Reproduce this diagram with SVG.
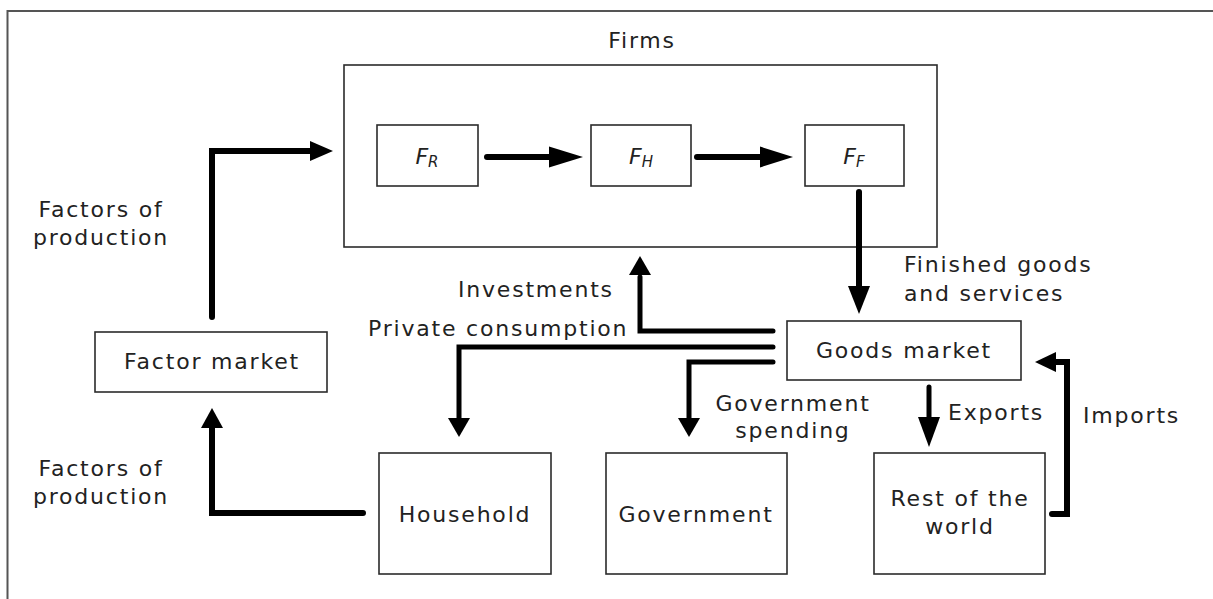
<svg xmlns="http://www.w3.org/2000/svg" width="1213" height="599" viewBox="0 0 1213 599">
<style>
.box{fill:#fff;stroke:#2b2b2b;stroke-width:1.6}
.lbl{font-family:"DejaVu Sans",Verdana,sans-serif;font-size:22px;letter-spacing:1.8px;fill:#222}
.mid{text-anchor:middle}
.it{font-style:italic;letter-spacing:0}
.ln{fill:none;stroke:#000;stroke-width:6;stroke-linejoin:miter;stroke-linecap:round}
.thin{stroke-width:5}
.hd{fill:#000}
</style>
<rect width="1213" height="599" fill="#fff"/>
<path d="M7.5,605 V11 H1220" fill="none" stroke="#555" stroke-width="2"/>

<g id="firms">
  <rect class="box" x="344" y="65" width="593" height="182"/>
  <text class="lbl mid" x="642" y="48">Firms</text>
</g>
<g id="fr">
  <rect class="box" x="377" y="125" width="101" height="61"/>
  <text class="lbl mid it" x="427" y="164">F<tspan font-size="15" dy="3">R</tspan></text>
</g>
<g id="fh">
  <rect class="box" x="591" y="125" width="100" height="61"/>
  <text class="lbl mid it" x="641" y="164">F<tspan font-size="15" dy="3">H</tspan></text>
</g>
<g id="ff">
  <rect class="box" x="805" y="125" width="99" height="61"/>
  <text class="lbl mid it" x="854" y="164">F<tspan font-size="15" dy="3">F</tspan></text>
</g>
<g id="goods-market">
  <rect class="box" x="787" y="321" width="234" height="59"/>
  <text class="lbl mid" x="904" y="358">Goods market</text>
</g>
<g id="factor-market">
  <rect class="box" x="95" y="332" width="232" height="60"/>
  <text class="lbl mid" x="212" y="369">Factor market</text>
</g>
<g id="household">
  <rect class="box" x="379" y="453" width="172" height="121"/>
  <text class="lbl mid" x="465" y="522">Household</text>
</g>
<g id="government">
  <rect class="box" x="606" y="453" width="181" height="121"/>
  <text class="lbl mid" x="696" y="522">Government</text>
</g>
<g id="rest-of-world">
  <rect class="box" x="874" y="453" width="171" height="121"/>
  <text class="lbl mid" x="960" y="506">Rest of the</text>
  <text class="lbl mid" x="960" y="534">world</text>
</g>

<g id="connectors">
  <path class="ln" d="M487,157 H552"/>
  <polygon class="hd" points="549,146.5 583,157 549,167.5"/>
  <path class="ln" d="M697,157 H763"/>
  <polygon class="hd" points="760,146.5 793,157 760,167.5"/>
  <path class="ln" d="M859,192 V288"/>
  <polygon class="hd" points="848,286 859,314 870,286"/>
  <path class="ln thin" d="M773,331 H640 V277"/>
  <polygon class="hd" points="629,275 640,256 651,275"/>
  <path class="ln thin" d="M773,347 H459 V420"/>
  <polygon class="hd" points="448,418 459,437 470,418"/>
  <path class="ln thin" d="M773,362 H689 V420"/>
  <polygon class="hd" points="678,418 689,437 700,418"/>
  <path class="ln thin" d="M929,387 V419"/>
  <polygon class="hd" points="918,417 929,447 940,417"/>
  <path class="ln" d="M1052,514 H1067 V362 H1054"/>
  <polygon class="hd" points="1056,352 1035,362 1056,372"/>
  <path class="ln" d="M212,317 V151 H312"/>
  <polygon class="hd" points="310,141 333,151 310,161"/>
  <path class="ln" d="M363,513 H212 V426"/>
  <polygon class="hd" points="201,428 212,408 223,428"/>
</g>

<g id="labels">
  <text class="lbl mid" x="101" y="217">Factors of</text>
  <text class="lbl mid" x="101" y="245">production</text>
  <text class="lbl mid" x="101" y="476">Factors of</text>
  <text class="lbl mid" x="101" y="504">production</text>
  <text class="lbl" x="904" y="272">Finished goods</text>
  <text class="lbl" x="904" y="301">and services</text>
  <text class="lbl" x="458" y="297">Investments</text>
  <text class="lbl" x="368" y="336">Private consumption</text>
  <text class="lbl mid" x="793" y="411">Government</text>
  <text class="lbl mid" x="793" y="438">spending</text>
  <text class="lbl" x="948" y="420">Exports</text>
  <text class="lbl" x="1083" y="423">Imports</text>
</g>
</svg>
